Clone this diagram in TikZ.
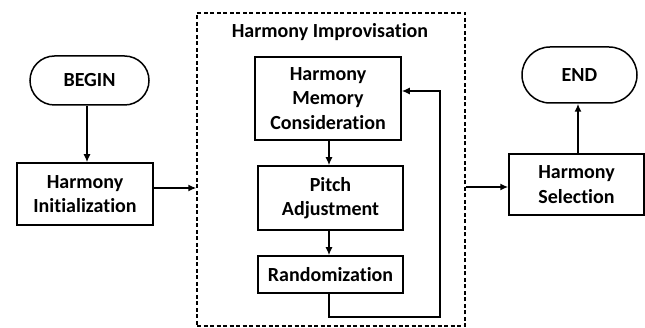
\documentclass[tikz,border=0pt]{standalone}
\usepackage{fontspec}
\setmainfont{Carlito}[Ligatures=NoCommon]
\usetikzlibrary{shapes.misc,arrows.meta}
\begin{document}
\begin{tikzpicture}[x=1pt,y=-1pt,
  every node/.style={font=\bfseries\fontsize{20}{24.5}\selectfont, align=center, inner sep=0pt},
  boxnode/.style={draw, line width=1.5pt, rectangle},
  pill/.style={draw, line width=1.5pt, rounded rectangle},
  arr/.style={line width=1.5pt, -{Latex[length=8pt,width=7pt]}}]
\useasboundingbox (0,0) rectangle (645,328);
\node[pill, minimum width=119pt, minimum height=49pt] (begin) at (89.5,80.5) {BEGIN};
\node[boxnode, minimum width=136pt, minimum height=62pt] (init) at (85,194) {Harmony\\Initialization};
\node[draw, dash pattern=on 4pt off 2.5pt, line width=1.4pt, minimum width=268pt, minimum height=313pt] (impro) at (331,169.5) {};
\node (title) at (330,32) {Harmony Improvisation};
\node[boxnode, minimum width=146pt, minimum height=83pt] (hmc) at (328,98.5) {Harmony\\Memory\\Consideration};
\node[boxnode, minimum width=145pt, minimum height=64pt] (pitch) at (330.5,198) {Pitch\\Adjustment};
\node[boxnode, minimum width=145pt, minimum height=37pt] (rand) at (330.5,274.5) {Randomization};
\node[boxnode, minimum width=135pt, minimum height=61pt] (hs) at (576.5,184.5) {Harmony\\Selection};
\node[pill, minimum width=115pt, minimum height=56pt] (end) at (579.5,75) {END};
\coordinate (fb1) at (329,317);
\coordinate (fb2) at (440,317);
\coordinate (fb3) at (440,91);
\draw[arr] (begin.south -| 87,0) -- (init.north -| 87,0);
\draw[arr] ([yshift=6pt]init.east) coordinate (a) -- (a -| impro.west);
\draw[arr] (hmc.south -| 329,0) -- (pitch.north -| 329,0);
\draw[arr] (pitch.south -| 329,0) -- (rand.north -| 329,0);
\draw[arr] (rand.south -| fb1) -- (fb1) -- (fb2) -- (fb3) -- (fb3 -| hmc.east);
\draw[arr] (impro.east |- 0,187) -- (hs.west |- 0,187);
\draw[arr] (hs.north -| 578,0) -- (end.south -| 578,0);
\end{tikzpicture}
\end{document}
